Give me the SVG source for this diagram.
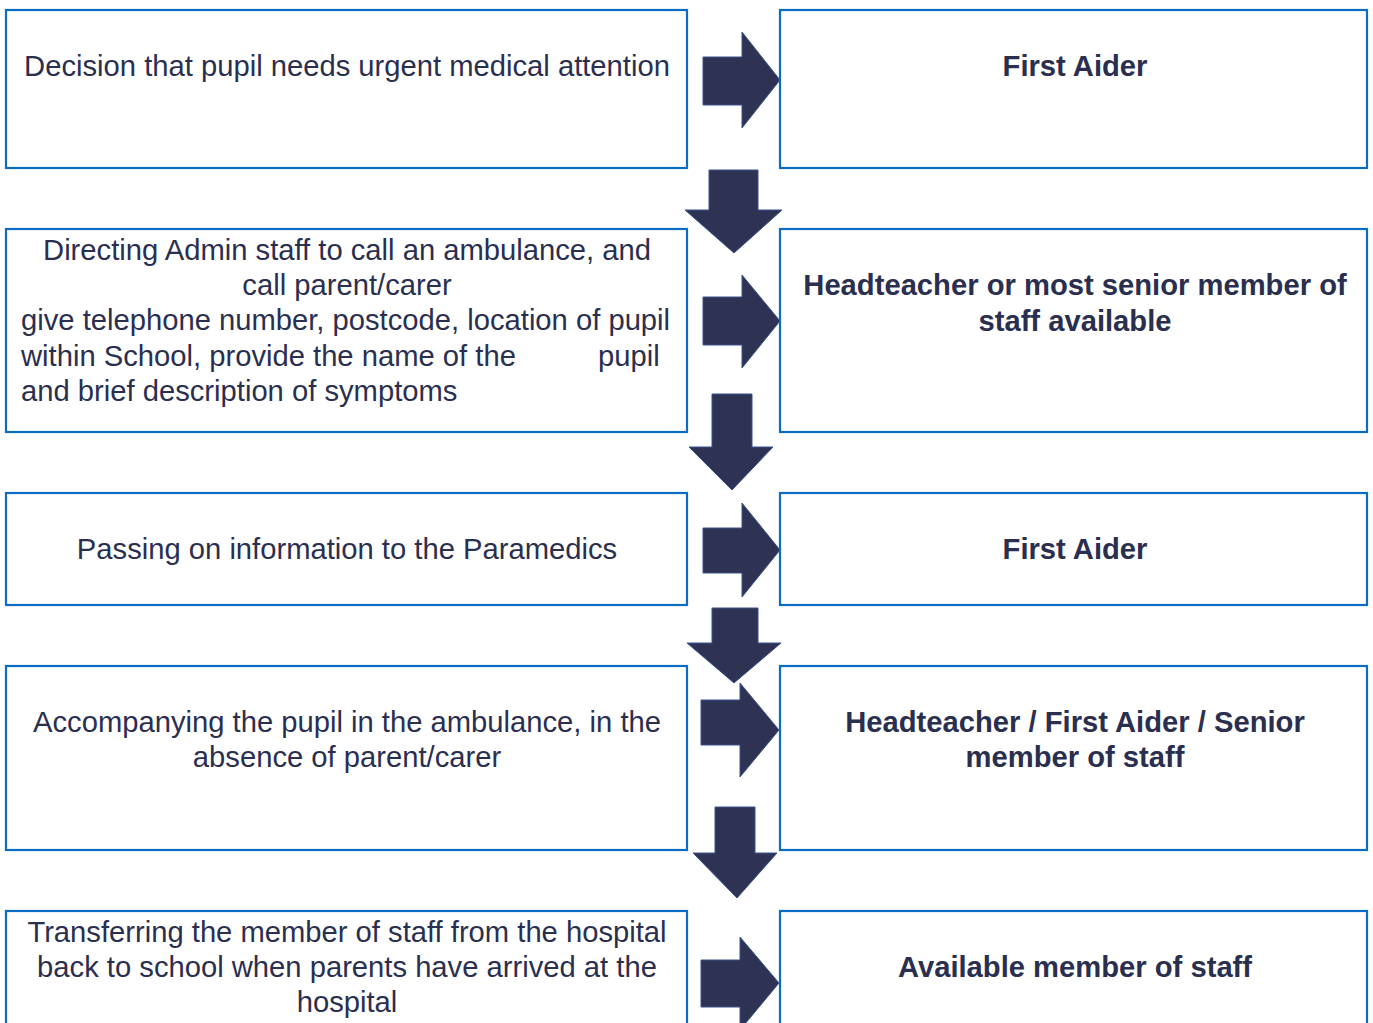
<svg xmlns="http://www.w3.org/2000/svg" width="1373" height="1023" viewBox="0 0 1373 1023">
<style>
.box{fill:#fff;stroke:#0a6cc4;stroke-width:2.2}
.t{font-family:"Liberation Sans",Arial,sans-serif;font-size:29.2px;fill:#2b2f4f}
.c{text-anchor:middle}
.b{font-weight:bold}
.arr{fill:#2e3253;stroke:#3b5290;stroke-width:1}
</style>
<rect width="1373" height="1023" fill="#fff"/>
<g id="connectors">
<path class="arr" d="M703,57 H742 V32 L780,80 L742,128 V105 H703 Z"/>
<path class="arr" d="M709,170 H758 V210 H782 L734,253 L685,210 H709 Z"/>
<path class="arr" d="M703,297 H742 V275 L780,321 L742,368 V345 H703 Z"/>
<path class="arr" d="M712,394 H752 V447 H773 L732,490 L689,447 H712 Z"/>
<path class="arr" d="M703,528 H742 V503 L780,550 L742,597 V573 H703 Z"/>
<path class="arr" d="M712,608 H758 V643 H781 L734,683 L687,643 H712 Z"/>
<path class="arr" d="M701,700 H740 V683 L779,730 L740,777 V745 H701 Z"/>
<path class="arr" d="M715,807 H755 V853 H777 L737,898 L693,853 H715 Z"/>
<path class="arr" d="M701,960 H740 V937 L779,983 L740,1030 V1007 H701 Z"/>
</g>
<g id="n1l"><rect class="box" x="6" y="10" width="681" height="158"/><text class="t c" x="347" y="76">Decision that pupil needs urgent medical attention</text></g>
<g id="n1r"><rect class="box" x="780" y="10" width="587" height="158"/><text class="t c b" x="1075" y="76">First Aider</text></g>
<g id="n2l"><rect class="box" x="6" y="229" width="681" height="203"/>
<text class="t c" x="347" y="260">Directing Admin staff to call an ambulance, and</text>
<text class="t c" x="347" y="295">call parent/carer</text>
<text class="t" x="21" y="330">give telephone number, postcode, location of pupil</text>
<text class="t" x="21" y="366">within School, provide the name of the<tspan x="598">pupil</tspan></text>
<text class="t" x="21" y="401">and brief description of symptoms</text></g>
<g id="n2r"><rect class="box" x="780" y="229" width="587" height="203"/>
<text class="t c b" x="1075" y="295">Headteacher or most senior member of</text>
<text class="t c b" x="1075" y="331">staff available</text></g>
<g id="n3l"><rect class="box" x="6" y="493" width="681" height="112"/><text class="t c" x="347" y="559">Passing on information to the Paramedics</text></g>
<g id="n3r"><rect class="box" x="780" y="493" width="587" height="112"/><text class="t c b" x="1075" y="559">First Aider</text></g>
<g id="n4l"><rect class="box" x="6" y="666" width="681" height="184"/>
<text class="t c" x="347" y="732">Accompanying the pupil in the ambulance, in the</text>
<text class="t c" x="347" y="767">absence of parent/carer</text></g>
<g id="n4r"><rect class="box" x="780" y="666" width="587" height="184"/>
<text class="t c b" x="1075" y="732">Headteacher / First Aider / Senior</text>
<text class="t c b" x="1075" y="767">member of staff</text></g>
<g id="n5l"><rect class="box" x="6" y="911" width="681" height="140"/>
<text class="t c" x="347" y="942">Transferring the member of staff from the hospital</text>
<text class="t c" x="347" y="977">back to school when parents have arrived at the</text>
<text class="t c" x="347" y="1012">hospital</text></g>
<g id="n5r"><rect class="box" x="780" y="911" width="587" height="140"/>
<text class="t c b" x="1075" y="977">Available member of staff</text></g>
</svg>
